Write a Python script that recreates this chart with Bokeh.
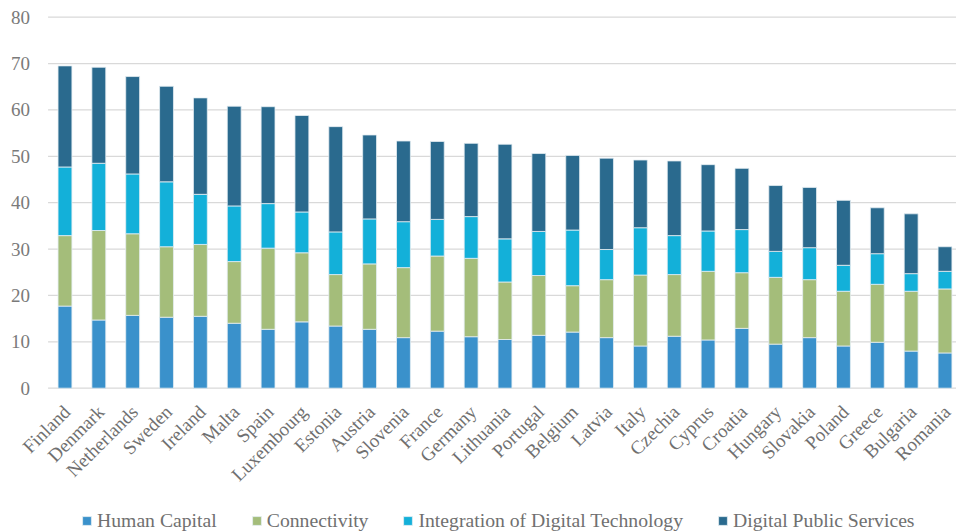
from math import pi
from bokeh.plotting import figure
from bokeh.models import ColumnDataSource, Range1d, Legend, LegendItem
from bokeh.embed import file_html
from bokeh.resources import INLINE

countries = ["Finland", "Denmark", "Netherlands", "Sweden", "Ireland", "Malta", "Spain",
             "Luxembourg", "Estonia", "Austria", "Slovenia", "France", "Germany", "Lithuania",
             "Portugal", "Belgium", "Latvia", "Italy", "Czechia", "Cyprus", "Croatia",
             "Hungary", "Slovakia", "Poland", "Greece", "Bulgaria", "Romania"]
human_capital = [17.7, 14.7, 15.7, 15.3, 15.5, 14.0, 12.7, 14.3, 13.4, 12.7, 10.9, 12.3, 11.1, 10.5,
                 11.4, 12.1, 10.9, 9.1, 11.2, 10.4, 12.9, 9.5, 10.9, 9.1, 9.9, 8.0, 7.6]
connectivity = [15.2, 19.3, 17.6, 15.2, 15.5, 13.3, 17.5, 14.9, 11.1, 14.1, 15.1, 16.2, 16.9, 12.4,
                12.9, 10.0, 12.5, 15.3, 13.3, 14.8, 12.0, 14.4, 12.5, 11.8, 12.5, 12.9, 13.8]
integration = [14.8, 14.5, 12.9, 14.0, 10.8, 12.0, 9.6, 8.8, 9.2, 9.7, 9.9, 7.9, 9.0, 9.3,
               9.5, 12.0, 6.5, 10.2, 8.4, 8.7, 9.3, 5.6, 6.9, 5.6, 6.6, 3.8, 3.8]
public_services = [21.8, 20.7, 21.0, 20.6, 20.8, 21.5, 20.9, 20.8, 22.7, 18.1, 17.4, 16.8, 15.8, 20.4,
                   16.8, 16.1, 19.7, 14.6, 16.1, 14.3, 13.2, 14.2, 13.0, 14.0, 9.9, 12.9, 5.3]
series_names = ["Human Capital", "Connectivity", "Integration of Digital Technology",
                "Digital Public Services"]
y_ticks = [0, 10, 20, 30, 40, 50, 60, 70, 80]
y_tick_labels = [str(t) for t in y_ticks]

colors = ["#3A91CB", "#A4BD7A", "#13B0D9", "#2A6A8E"]
keys = ["hc", "conn", "idt", "dps"]

idx = list(range(len(countries)))
source = ColumnDataSource(dict(x=idx, name=countries, hc=human_capital, conn=connectivity,
                               idt=integration, dps=public_services))
tick_source = ColumnDataSource(dict(y=y_ticks, label=y_tick_labels))

# the frame covers the whole canvas; value labels, category labels and legend sit inside it
x_start, x_end = -1.905, 26.34
p = figure(width=956, height=532, x_range=Range1d(x_start, x_end), y_range=Range1d(-31.12, 83.6),
           output_backend="svg", toolbar_location=None,
           x_axis_location=None, y_axis_location=None,
           min_border_left=0, min_border_right=0, min_border_top=0, min_border_bottom=0)
p.outline_line_color = None
p.grid.visible = False

# horizontal gridlines at the value ticks, starting at the left edge of the category band
p.segment(x0=-0.5, x1=x_end + 1, y0="y", y1="y", source=tick_source,
          line_color="#D9D9D9", line_width=1.3)

rs = p.vbar_stack(keys, x="x", width=0.41, source=source, fill_color=colors,
                  line_color="#e4edf2", line_width=0.8)

# value tick labels
p.text(x=-0.5, y="y", text="label", source=tick_source, x_offset=-18,
       text_align="right", text_baseline="middle",
       text_font="Liberation Sans", text_font_size="19px", text_color="#7a7a7a")

# category labels, rotated 45 degrees below the baseline
p.text(x="x", y=-4.4, text="name", source=source, angle=pi / 4, x_offset=2,
       text_align="right", text_baseline="middle",
       text_font="Liberation Serif", text_font_size="19px", text_color="#707070")

legend = Legend(items=[LegendItem(label=n, renderers=[r]) for n, r in zip(series_names, rs)],
                orientation="horizontal", location=(81, 0))
legend.label_text_font = "Liberation Serif"
legend.label_text_font_size = "19.7px"
legend.label_text_color = "#707070"
legend.glyph_width = 11
legend.glyph_height = 11
legend.label_standoff = 5
legend.spacing = 34
legend.padding = 2
legend.margin = 0
legend.border_line_color = None
legend.background_fill_alpha = 0
p.add_layout(legend, "center")

open("out.html", "w").write(file_html(p, INLINE))
